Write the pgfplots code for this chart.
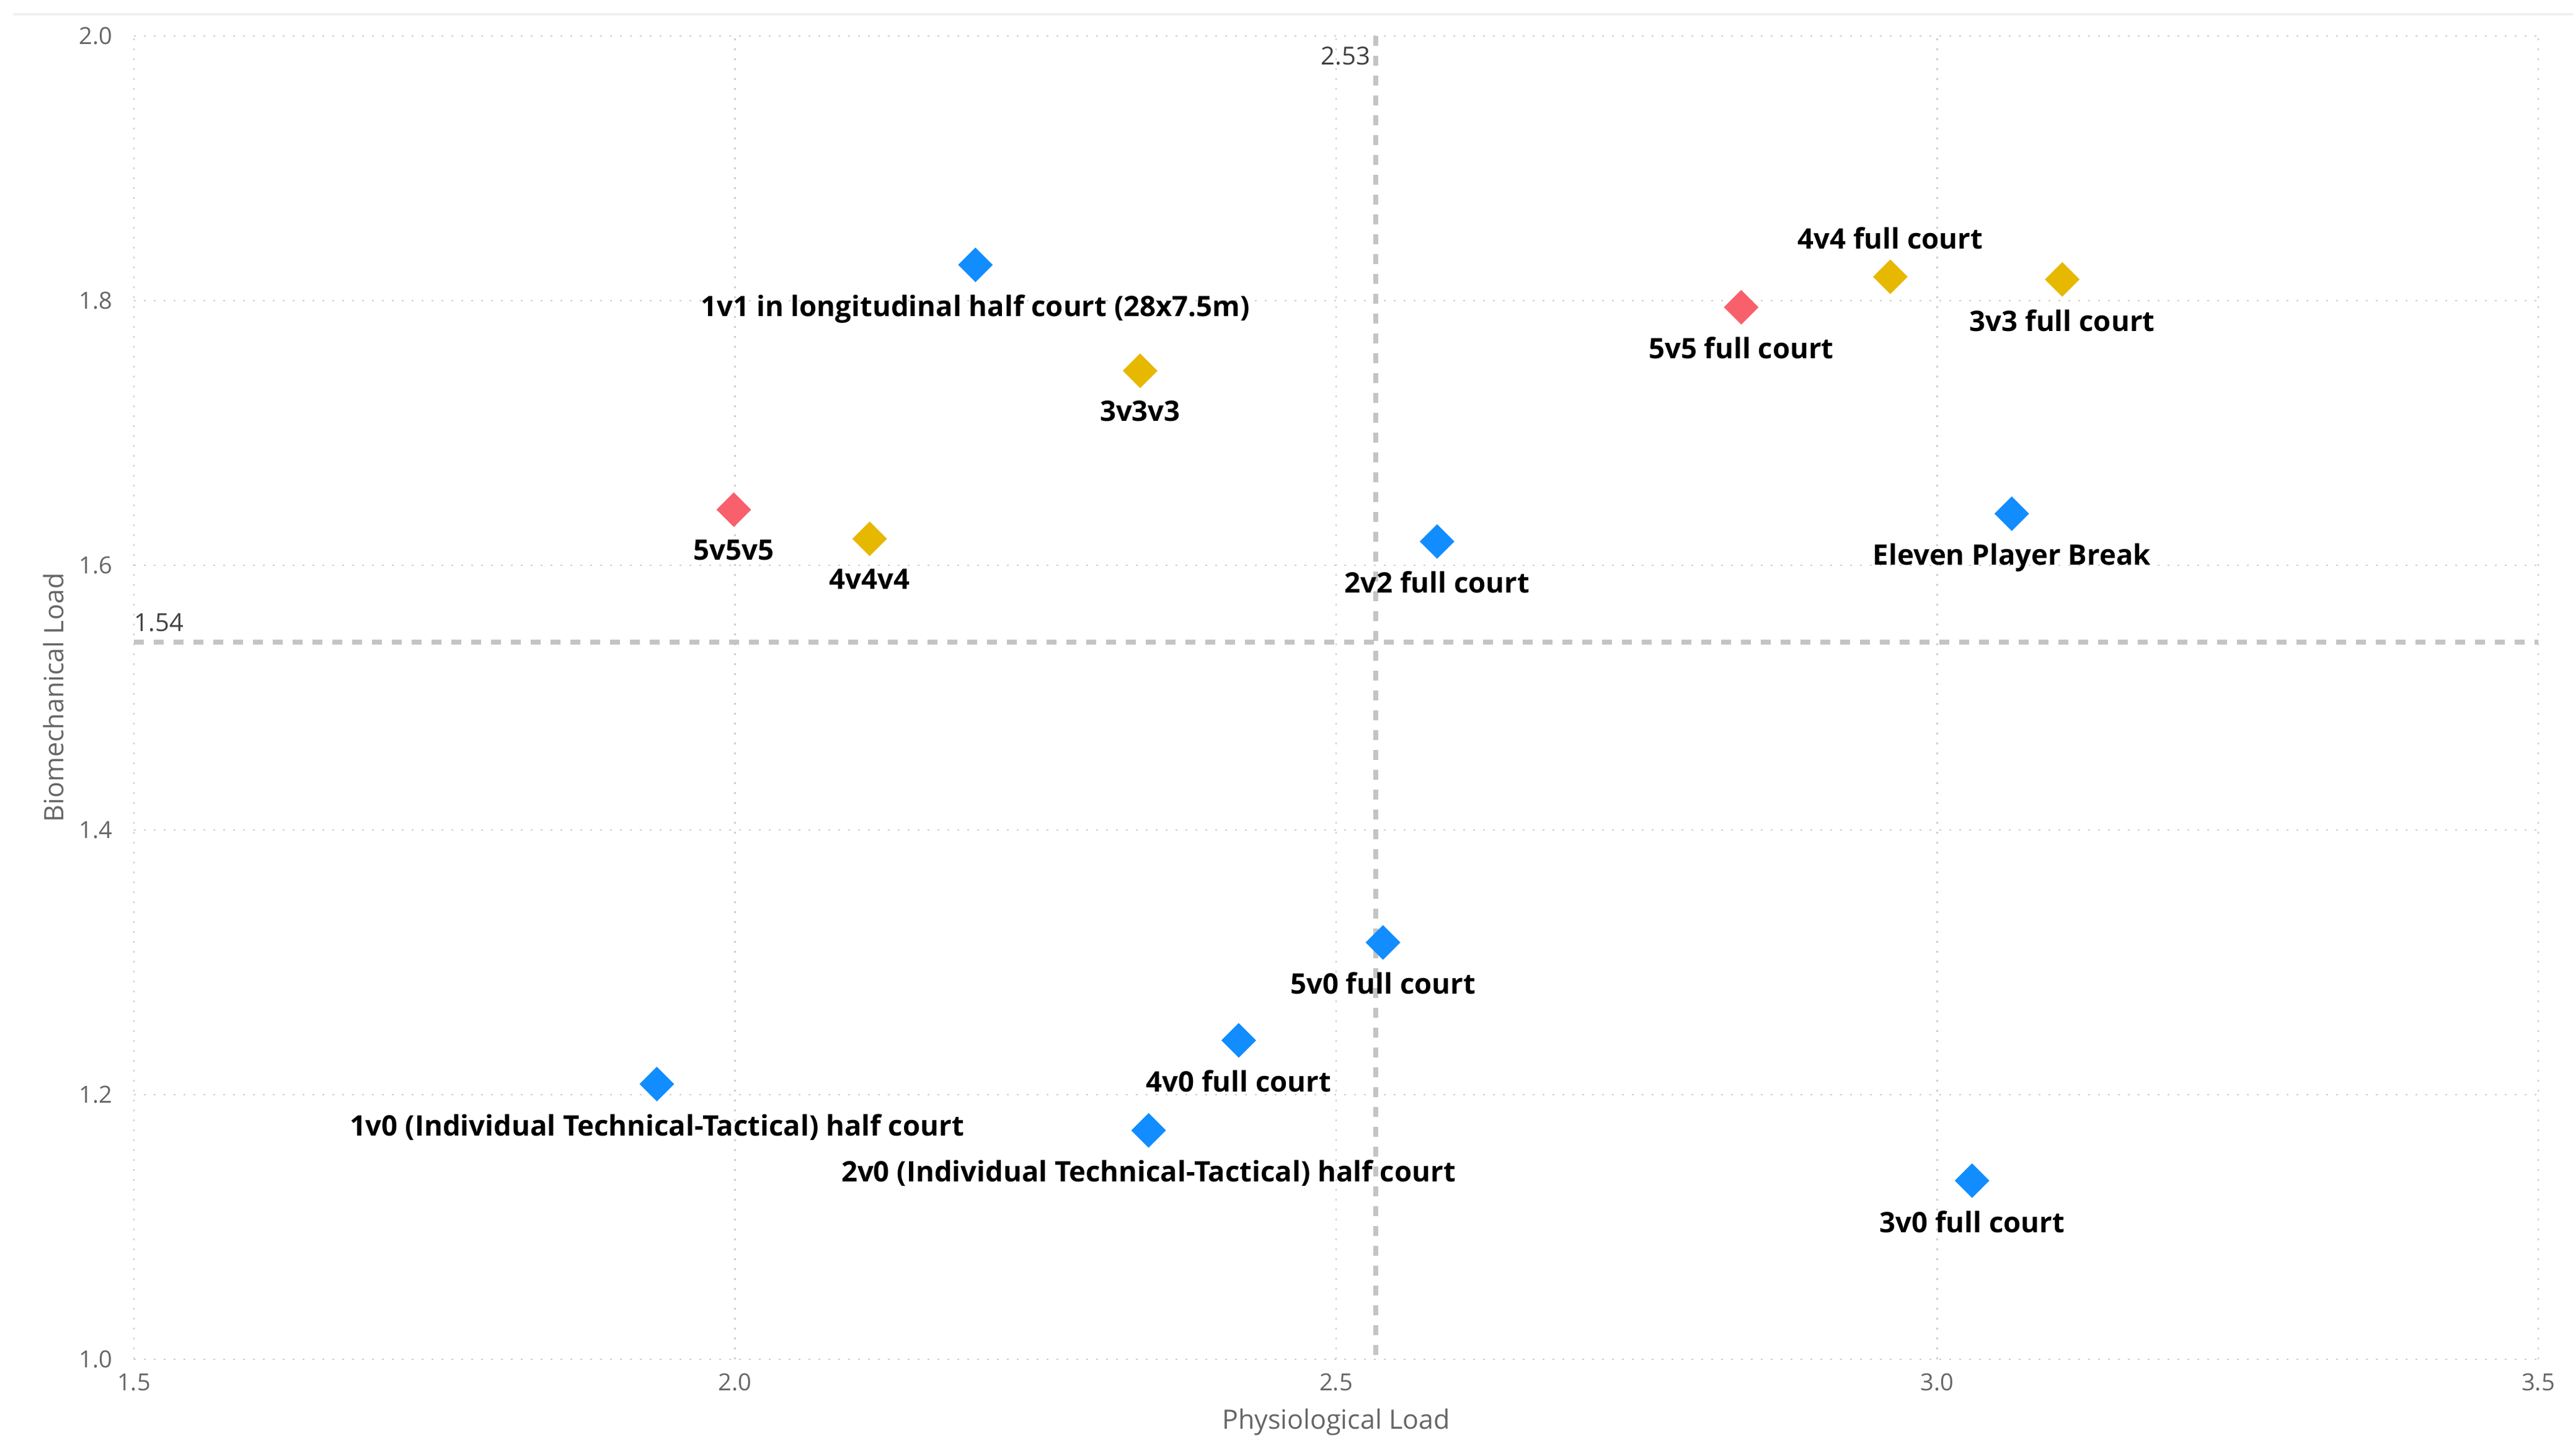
\documentclass[border=0pt]{standalone}
\usepackage{fontspec}
\setmainfont{Open Sans}
\usepackage{pgfplots}
\pgfplotsset{compat=1.18}

\definecolor{pbiblue}{HTML}{118DFF}
\definecolor{pbiyellow}{HTML}{E6B800}
\definecolor{pbired}{HTML}{F8606B}
\definecolor{tickgray}{HTML}{666666}
\definecolor{gridgray}{HTML}{CDCDCD}
\definecolor{refgray}{HTML}{C4C4C4}

\pgfplotsset{
  pointlabel/.style={
    only marks,
    mark=square*,
    mark size=3.75pt,
    mark options={rotate=45, draw=none},
    point meta=explicit symbolic,
    nodes near coords,
    every node near coord/.append style={
      font=\fontsize{9.1}{11}\selectfont\bfseries,
      text=black, inner sep=0pt, anchor=north, yshift=-9.5pt},
  },
}

\begin{document}
\begin{tikzpicture}
\begin{axis}[
  at={(0pt,0pt)}, anchor=south west,
  width=775.6pt, height=427pt, scale only axis,
  xmin=1.5, xmax=3.5, ymin=1.0, ymax=2.0,
  xtick={1.5,2.0,2.5,3.0,3.5},
  ytick={1.0,1.2,1.4,1.6,1.8,2.0},
  axis line style={draw=none},
  major tick length=0pt,
  grid=major,
  major grid style={gridgray, line width=0.5pt, dash pattern=on 0.6pt off 2.6pt},
  /pgf/number format/fixed,
  /pgf/number format/fixed zerofill,
  /pgf/number format/precision=1,
  /pgf/number format/assume math mode=true,
  ticklabel style={font=\fontsize{7.6}{9}\selectfont, text=tickgray, inner sep=0pt},
  xticklabel style={anchor=north, yshift=-4.4pt},
  yticklabel style={anchor=east, xshift=-6.8pt},
  xlabel={Physiological Load},
  xlabel style={at={([yshift=-22.4pt]rel axis cs:0.5,0)}, anchor=base,
    font=\fontsize{8.6}{10}\selectfont, text=tickgray},
  ylabel={Biomechanical Load},
  ylabel style={at={([xshift=-26pt]rel axis cs:0,0.5)}, anchor=center,
    font=\fontsize{8.6}{10}\selectfont, text=tickgray},
  clip=false,
]
% average lines
\addplot[refgray, line width=1.6pt, dash pattern=on 3.2pt off 3.2pt] coordinates {(2.533,2.0) (2.533,1.0)};
\addplot[refgray, line width=1.6pt, dash pattern=on 3.2pt off 3.2pt] coordinates {(1.5,1.542) (3.5,1.542)};
\node[anchor=north east, inner sep=0pt, xshift=-1.6pt, yshift=-3.4pt,
  font=\fontsize{8}{9}\selectfont, text=black!75] at (axis cs:2.533,2.0) {2.53};
\node[anchor=base west, inner sep=0pt, yshift=3.4pt,
  font=\fontsize{8}{9}\selectfont, text=black!75] at (axis cs:1.5,1.542) {1.54};

% blue drills
\addplot[pointlabel, color=pbiblue] coordinates {
  (2.200,1.827) [1v1 in longitudinal half court (28x7.5m)]
  (2.584,1.618) [2v2 full court]
  (3.062,1.639) [Eleven Player Break]
  (2.539,1.315) [5v0 full court]
  (2.419,1.241) [4v0 full court]
  (1.935,1.208) [1v0 (Individual Technical-Tactical) half court]
  (2.344,1.173) [2v0 (Individual Technical-Tactical) half court]
  (3.029,1.135) [3v0 full court]
};
% yellow drills
\addplot[pointlabel, color=pbiyellow] coordinates {
  (2.337,1.747) [3v3v3]
  (2.112,1.620) [4v4v4]
  (3.104,1.816) [3v3 full court]
};
% this one is labelled above the marker
\addplot[pointlabel, color=pbiyellow,
  every node near coord/.append style={anchor=base, yshift=18.5pt}] coordinates {
  (2.961,1.818) [4v4 full court]
};
% red drills
\addplot[pointlabel, color=pbired] coordinates {
  (1.999,1.642) [5v5v5]
  (2.837,1.795) [5v5 full court]
};

% panel edge at the top
\draw[black!6, line width=0.8pt] ([xshift=-38.8pt, yshift=7pt]rel axis cs:0,1) -- ([xshift=11.2pt, yshift=7pt]rel axis cs:1,1);
\end{axis}
\pgfresetboundingbox
\path[use as bounding box] (-43.2pt,-31pt) rectangle (786.8pt,438.6pt);
\end{tikzpicture}
\end{document}
